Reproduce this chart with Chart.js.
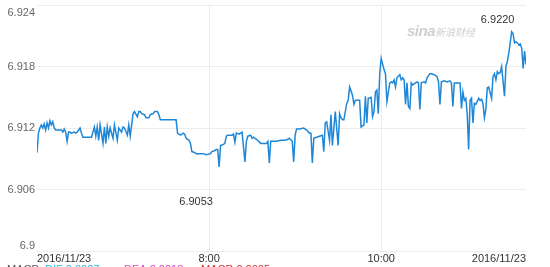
<!DOCTYPE html>
<html>
<head>
<meta charset="utf-8">
<script src="https://cdn.jsdelivr.net/npm/chart.js@4.4.1/dist/chart.umd.min.js"></script>
<style>
  html, body { margin: 0; padding: 0; background: #fff; overflow: hidden; }
  #wrap { position: relative; width: 550px; height: 267px; overflow: hidden; }
  #grafico { position: absolute; left: 0; top: 0; }
  #marca { position: absolute; left: 407px; top: 22px; color: #cfcfcf; font-style: italic; white-space: nowrap; }
  #marca b { font-family: "Liberation Sans", Arial, sans-serif; font-size: 15px; letter-spacing: -0.5px; }
  #marca span { font-family: "Noto Sans CJK SC", sans-serif; font-size: 10px; }
  #macd { position: absolute; top: 263px; left: 0; width: 550px; font: 11px "Liberation Sans", Arial, sans-serif; line-height: 13px; white-space: nowrap; }
  #macd span { position: absolute; top: 0; }
</style>
</head>
<body>
<div id="wrap">
  <canvas id="grafico" width="550" height="267"></canvas>
  <div id="marca"><b>sina</b><span>新浪财经</span></div>
  <div id="macd">
    <span style="left:7px;color:#555">MACD</span>
    <span style="left:45px;color:#27b9dc">DIF:0.0027</span>
    <span style="left:124px;color:#e03cc8">DEA:0.0018</span>
    <span style="left:201px;color:#d42a2a">MACD:0.0005</span>
  </div>
</div>
<script>
// minutos desde 6:00
const minutos = [0,1,2,3,4,5,6,7,8,9,10,11,12,13,17,18,19,20,21,22,23,24,26,27,28,30,31,32,38,40,41,42,43,44,46,47,48,49,50,51,53,54,56,57,59,60,61,63,64,65,66,67,68,70,71,72,73,75,76,78,79,80,81,82,84,85,86,97,98,100,102,103,104,106,107,108,110,111,114,116,118,121,122,124,125,126,127,128,130,131,132,133,136,137,138,139,141,142,143,145,146,147,149,150,151,153,156,160,161,162,163,165,167,170,173,175,176,178,179,180,181,183,186,187,188,190,191,192,193,195,197,199,200,201,202,204,205,206,208,210,211,212,213,214,216,217,218,220,221,222,223,225,226,228,229,230,231,233,234,235,236,237,238,239,240,242,243,244,246,247,248,249,250,251,253,254,255,256,257,258,259,260,261,262,264,265,266,267,268,270,271,272,274,275,277,279,280,281,282,284,286,288,289,290,291,293,295,296,297,298,299,300,301,302,303,304,305,306,307,308,309,310,311,312,313,314,315,317,318,319,320,321,322,323,324,326,327,328,329,330,331,332,333,334,335,336,337,338,339,340,341];

// taxa USD/CNY
const taxas = [6.9096,6.9115,6.9120,6.9123,6.9120,6.9124,6.9118,6.9125,6.9120,6.9127,6.9123,6.9126,6.9120,6.9118,6.9118,6.9116,6.9119,6.9116,6.9107,6.9116,6.9116,6.9115,6.9116,6.9115,6.9116,6.9120,6.9115,6.9111,6.9111,6.9121,6.9112,6.9121,6.9108,6.9123,6.9105,6.9121,6.9105,6.9121,6.9112,6.9120,6.9110,6.9123,6.9108,6.9120,6.9116,6.9121,6.9120,6.9113,6.9123,6.9112,6.9123,6.9134,6.9136,6.9131,6.9136,6.9136,6.9134,6.9133,6.9130,6.9130,6.9133,6.9134,6.9134,6.9136,6.9136,6.9133,6.9128,6.9128,6.9115,6.9113,6.9115,6.9114,6.9110,6.9108,6.9105,6.9097,6.9096,6.9095,6.9095,6.9095,6.9094,6.9095,6.9097,6.9098,6.9099,6.9099,6.9082,6.9103,6.9104,6.9105,6.9112,6.9113,6.9113,6.9114,6.9106,6.9115,6.9114,6.9115,6.9116,6.9087,6.9107,6.9112,6.9113,6.9110,6.9111,6.9109,6.9105,6.9105,6.9107,6.9086,6.9107,6.9107,6.9107,6.9108,6.9108,6.9109,6.9110,6.9107,6.9087,6.9113,6.9119,6.9119,6.9120,6.9119,6.9118,6.9115,6.9115,6.9086,6.9110,6.9111,6.9112,6.9113,6.9097,6.9125,6.9126,6.9108,6.9133,6.9103,6.9136,6.9103,6.9134,6.9130,6.9128,6.9128,6.9144,6.9147,6.9160,6.9152,6.9143,6.9147,6.9147,6.9147,6.9121,6.9123,6.9151,6.9125,6.9149,6.9150,6.9131,6.9136,6.9155,6.9157,6.9134,6.9173,6.9188,6.9177,6.9173,6.9146,6.9164,6.9165,6.9164,6.9167,6.9160,6.9169,6.9172,6.9167,6.9169,6.9167,6.9143,6.9164,6.9141,6.9139,6.9164,6.9162,6.9164,6.9165,6.9164,6.9138,6.9164,6.9165,6.9164,6.9169,6.9173,6.9173,6.9172,6.9170,6.9165,6.9143,6.9165,6.9166,6.9165,6.9166,6.9164,6.9141,6.9164,6.9164,6.9164,6.9139,6.9155,6.9147,6.9149,6.9134,6.9099,6.9147,6.9149,6.9125,6.9144,6.9143,6.9146,6.9149,6.9147,6.9148,6.9144,6.9130,6.9138,6.9159,6.9160,6.9149,6.9170,6.9173,6.9167,6.9175,6.9173,6.9174,6.9180,6.9151,6.9180,6.9185,6.9193,6.9203,6.9214,6.9212,6.9203,6.9204,6.9203,6.9201,6.9202,6.9198,6.9178,6.9195,6.9182];

const ticksY = [6.9, 6.906, 6.912, 6.918, 6.924];
const rotulosY = ["6.9", "6.906", "6.912", "6.918", "6.924"];
const ticksX = [0, 120, 240, 341];
const rotulosX = ["2016/11/23", "8:00", "10:00", "2016/11/23"];

const textoMax = "6.9220";
const textoMin = "6.9053";
const valorMax = 6.9220;
const valorMin = 6.9053;

const fonte = '"Liberation Sans", Arial, sans-serif';

// desenha rotulos do eixo Y e as marcas de max/min
const pluginTextos = {
    id: "textos",
    afterDraw(chart) {
        const ctx = chart.ctx;
        const y = chart.scales.y;
        const x = chart.scales.x;
        const area = chart.chartArea;
        ctx.save();
        ctx.font = "11px " + fonte;
        ctx.fillStyle = "#666";
        ctx.textAlign = "right";
        ctx.textBaseline = "middle";
        ticksY.forEach((v, i) => {
            let py = y.getPixelForValue(v);
            py = Math.max(area.top + 8, Math.min(area.bottom - 5, py));
            ctx.fillText(rotulosY[i], 35, py);
        });

        let iMax = 0, iMin = 0;
        taxas.forEach((t, i) => {
            if (t > taxas[iMax]) iMax = i;
            if (t < taxas[iMin]) iMin = i;
        });
        ctx.fillStyle = "#333";
        ctx.textAlign = "center";
        ctx.textBaseline = "bottom";
        ctx.fillText(textoMax, x.getPixelForValue(minutos[iMax]) - 14, y.getPixelForValue(valorMax));
        ctx.textBaseline = "top";
        ctx.fillText(textoMin, x.getPixelForValue(minutos[iMin]) - 23, y.getPixelForValue(valorMin));
        ctx.restore();
    }
};

const pontos = minutos.map((m, i) => ({ x: m, y: taxas[i] }));

const ctx = document.getElementById("grafico").getContext("2d");

new Chart(ctx, {
    type: "line",
    data: {
        datasets: [{
            data: pontos,
            borderColor: "#1e87d7",
            borderWidth: 1.5,
            pointRadius: 0,
            tension: 0,
            fill: false
        }]
    },
    options: {
        responsive: false,
        animation: false,
        events: [],
        layout: { padding: { top: 5, right: 24, left: 0, bottom: 0 } },
        plugins: {
            legend: { display: false },
            tooltip: { enabled: false }
        },
        scales: {
            x: {
                type: "linear",
                min: 0,
                max: 341,
                afterBuildTicks: s => { s.ticks = ticksX.map(v => ({ value: v })); },
                afterFit: s => { s.height = 16; },
                border: { display: false },
                grid: {
                    drawTicks: false,
                    color: c => (c.index === 1 || c.index === 2) ? "#ededed" : "rgba(0,0,0,0)"
                },
                ticks: {
                    align: "inner",
                    maxRotation: 0,
                    autoSkip: false,
                    padding: 1,
                    color: "#333",
                    font: { size: 11, family: fonte },
                    callback: (v, i) => rotulosX[i]
                }
            },
            y: {
                min: 6.9,
                max: 6.924,
                afterBuildTicks: s => { s.ticks = ticksY.map(v => ({ value: v })); },
                afterFit: s => { s.width = 37; },
                border: { display: false },
                grid: { drawTicks: false, color: "#ededed" },
                ticks: { display: false }
            }
        }
    },
    plugins: [pluginTextos]
});
</script>
</body>
</html>
